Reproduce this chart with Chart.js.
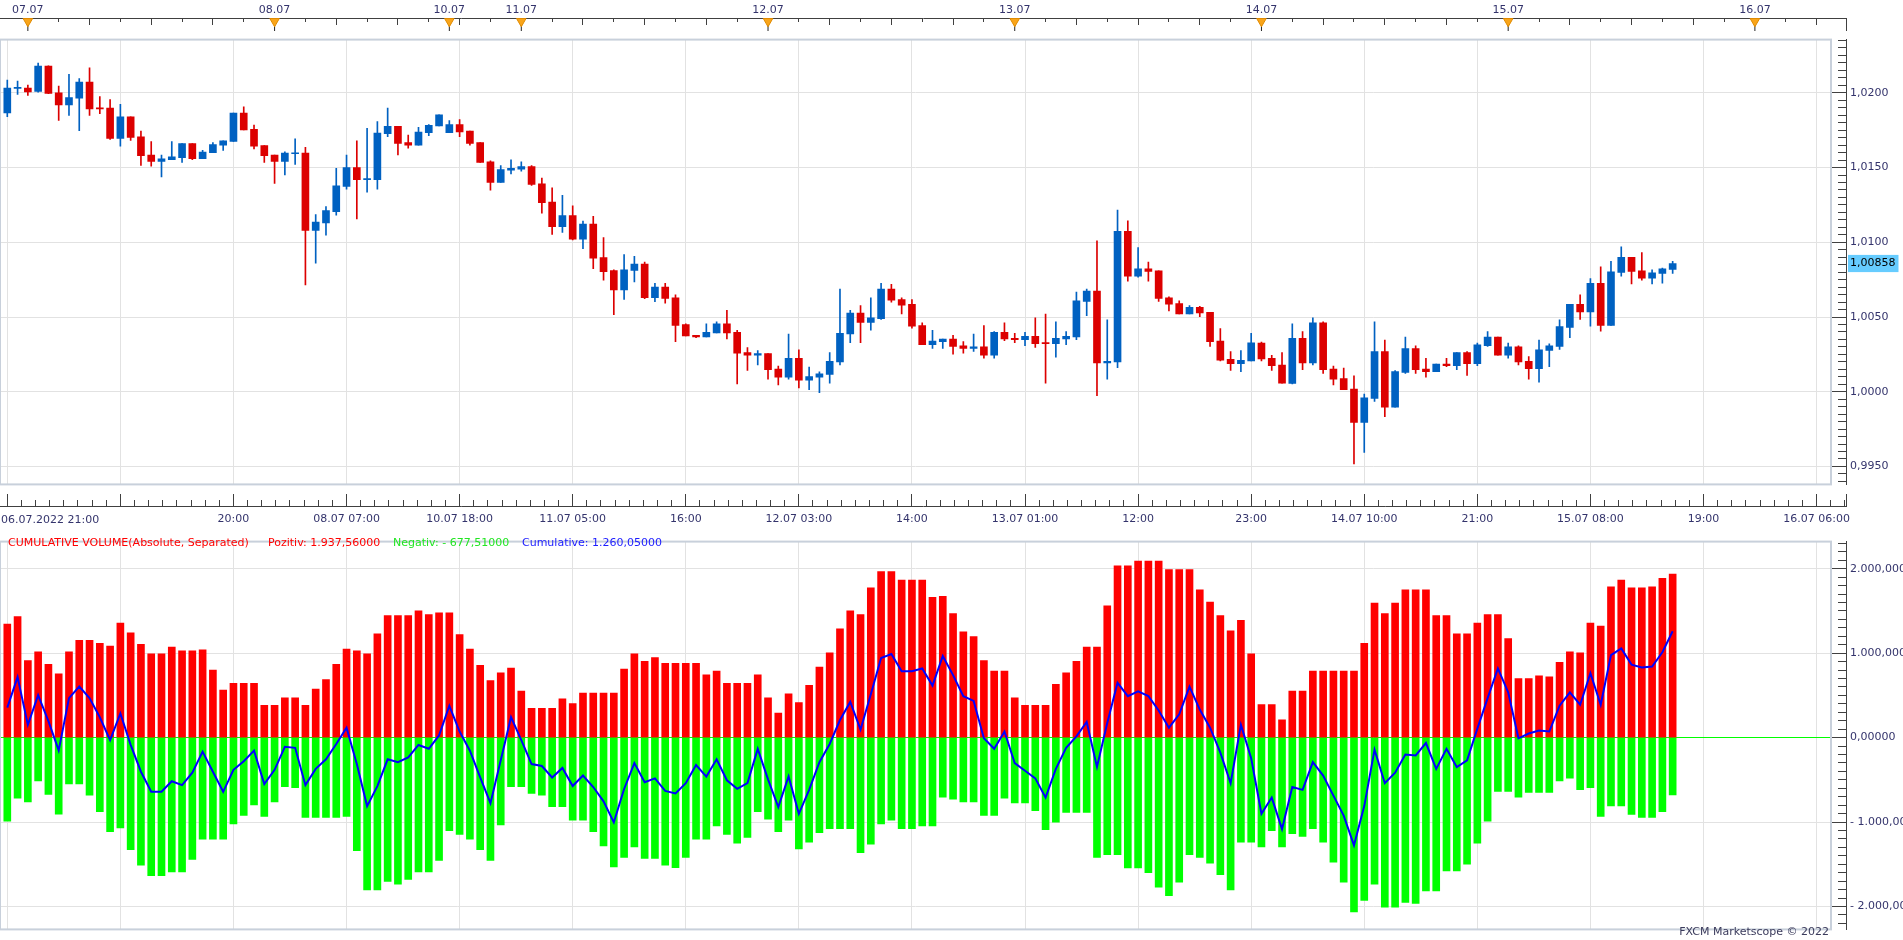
<!DOCTYPE html>
<html>
<head>
<meta charset="utf-8">
<title>EUR/USD H1 - Cumulative Volume</title>
<script src="https://cdn.jsdelivr.net/npm/chart.js@4.4.1/dist/chart.umd.min.js"></script>
<style>
  html, body { margin: 0; padding: 0; background: #fff; }
  body { position: relative; width: 1903px; height: 940px; overflow: hidden; font-family: "DejaVu Sans", sans-serif; }
  canvas { position: absolute; left: 0; }
  .txt { position: absolute; font-size: 11px; line-height: 13px; white-space: pre; }
</style>
</head>
<body>
<canvas id="dateStrip" width="1903" height="31" style="top:0"></canvas>
<canvas id="priceChart" width="1903" height="466" style="top:29px"></canvas>
<canvas id="timeStrip" width="1903" height="40" style="top:493px"></canvas>
<canvas id="volumeChart" width="1903" height="409" style="top:531px"></canvas>
<div class="txt" id="firstTime" style="left:1px;top:513px;color:#34346c"></div>
<div class="txt" id="legTitle" style="left:8px;top:536px;color:#ff0000"></div>
<div class="txt" id="legPos" style="left:268px;top:536px;color:#ff0000"></div>
<div class="txt" id="legNeg" style="left:393px;top:536px;color:#22e622"></div>
<div class="txt" id="legCum" style="left:522px;top:536px;color:#1c1cff"></div>
<div class="txt" id="brand" style="right:74px;top:925px;color:#3b3b5c">FXCM Marketscope © 2022</div>
<script>
// hourly candles, one per bar slot (weekend removed)
const open = [
  1.01865,1.02030,1.02032,1.02009,1.02179,1.02000,1.01919,1.01964,1.02071,1.01897,
  1.01897,1.01694,1.01840,1.01705,1.01583,1.01541,1.01553,1.01566,1.01660,1.01560,
  1.01600,1.01650,1.01675,1.01865,1.01756,1.01647,1.01583,1.01541,1.01592,1.01596,
  1.01079,1.01130,1.01205,1.01374,1.01500,1.01419,1.01419,1.01726,1.01776,1.01667,
  1.01650,1.01733,1.01778,1.01733,1.01788,1.01744,1.01667,1.01538,1.01400,1.01483,
  1.01489,1.01506,1.01391,1.01269,1.01105,1.01179,1.01021,1.01122,1.00897,1.00810,
  1.00682,1.00811,1.00854,1.00629,1.00700,1.00629,1.00449,1.00378,1.00367,1.00393,
  1.00455,1.00397,1.00262,1.00245,1.00255,1.00152,1.00097,1.00223,1.00077,1.00097,
  1.00116,1.00200,1.00386,1.00526,1.00464,1.00489,1.00687,1.00616,1.00584,1.00442,
  1.00315,1.00335,1.00352,1.00307,1.00290,1.00300,1.00245,1.00397,1.00358,1.00348,
  1.00371,1.00326,1.00322,1.00354,1.00367,1.00605,1.00674,1.00193,1.00200,1.01073,
  1.00773,1.00822,1.00809,1.00629,1.00590,1.00521,1.00564,1.00532,1.00339,1.00217,
  1.00187,1.00206,1.00326,1.00223,1.00178,1.00056,1.00358,1.00193,1.00461,1.00152,
  1.00088,1.00017,0.99794,0.99955,1.00268,0.99897,1.00129,1.00288,1.00152,1.00135,
  1.00185,1.00174,1.00262,1.00187,1.00309,1.00365,1.00245,1.00300,1.00204,1.00155,
  1.00277,1.00303,1.00431,1.00584,1.00534,1.00725,1.00444,1.00798,1.00899,1.00809,
  1.00760,1.00792,1.00818
];
const high = [
  1.02085,1.02079,1.02051,1.02199,1.02180,1.02045,1.02124,1.02096,1.02167,1.01974,
  1.01955,1.01923,1.01840,1.01744,1.01673,1.01583,1.01673,1.01660,1.01660,1.01615,
  1.01667,1.01679,1.01865,1.01906,1.01784,1.01647,1.01583,1.01605,1.01692,1.01635,
  1.01186,1.01239,1.01494,1.01583,1.01679,1.01763,1.01808,1.01897,1.01776,1.01718,
  1.01769,1.01788,1.01853,1.01814,1.01821,1.01744,1.01667,1.01545,1.01513,1.01551,
  1.01538,1.01513,1.01429,1.01365,1.01314,1.01244,1.01141,1.01173,1.01032,1.00816,
  1.00918,1.00906,1.00867,1.00725,1.00725,1.00648,1.00455,1.00378,1.00455,1.00468,
  1.00545,1.00410,1.00296,1.00275,1.00255,1.00172,1.00386,1.00281,1.00165,1.00133,
  1.00262,1.00687,1.00545,1.00577,1.00629,1.00725,1.00719,1.00629,1.00616,1.00461,
  1.00410,1.00352,1.00378,1.00335,1.00386,1.00442,1.00403,1.00461,1.00391,1.00397,
  1.00494,1.00519,1.00468,1.00403,1.00667,1.00687,1.01009,1.00481,1.01215,1.01144,
  1.00964,1.00867,1.00809,1.00635,1.00609,1.00577,1.00571,1.00532,1.00423,1.00268,
  1.00275,1.00391,1.00333,1.00243,1.00262,1.00455,1.00403,1.00494,1.00468,1.00172,
  1.00159,1.00107,0.99985,1.00468,1.00345,1.00142,1.00365,1.00307,1.00223,1.00185,
  1.00223,1.00262,1.00268,1.00326,1.00403,1.00365,1.00326,1.00307,1.00236,1.00345,
  1.00320,1.00481,1.00584,1.00648,1.00757,1.00835,1.00873,1.00970,1.00899,1.00931,
  1.00815,1.00828,1.00873
];
const low = [
  1.01840,1.01989,1.01983,1.02005,1.01994,1.01816,1.01848,1.01746,1.01848,1.01861,
  1.01688,1.01643,1.01682,1.01515,1.01509,1.01438,1.01553,1.01534,1.01553,1.01560,
  1.01600,1.01615,1.01675,1.01752,1.01624,1.01534,1.01393,1.01451,1.01521,1.00714,
  1.00861,1.01047,1.01182,1.01355,1.01156,1.01335,1.01355,1.01707,1.01585,1.01630,
  1.01650,1.01714,1.01778,1.01733,1.01707,1.01650,1.01534,1.01348,1.01400,1.01457,
  1.01476,1.01380,1.01194,1.01053,1.01066,1.01015,1.00957,1.00823,1.00746,1.00515,
  1.00618,1.00734,1.00622,1.00603,1.00592,1.00335,1.00373,1.00361,1.00367,1.00393,
  1.00354,1.00052,1.00142,1.00180,1.00084,1.00045,1.00084,1.00026,1.00013,0.99994,
  1.00058,1.00180,1.00328,1.00328,1.00412,1.00483,1.00599,1.00521,1.00425,1.00315,
  1.00290,1.00290,1.00251,1.00258,1.00270,1.00225,1.00225,1.00341,1.00328,1.00309,
  1.00296,1.00058,1.00232,1.00315,1.00348,1.00509,0.99974,1.00084,1.00161,1.00740,
  1.00766,1.00740,1.00605,1.00541,1.00521,1.00521,1.00502,1.00303,1.00206,1.00142,
  1.00135,1.00206,1.00206,1.00142,1.00058,1.00052,1.00148,1.00180,1.00122,1.00045,
  1.00013,0.99517,0.99594,0.99936,0.99833,0.99897,1.00122,1.00122,1.00097,1.00135,
  1.00167,1.00148,1.00109,1.00174,1.00303,1.00245,1.00225,1.00180,1.00084,1.00064,
  1.00167,1.00283,1.00361,1.00483,1.00438,1.00406,1.00444,1.00773,1.00721,1.00747,
  1.00721,1.00727,1.00792
];
const close = [
  1.02032,1.02034,1.02006,1.02179,1.01996,1.01919,1.01968,1.02071,1.01893,1.01893,
  1.01694,1.01840,1.01701,1.01579,1.01541,1.01558,1.01571,1.01660,1.01560,1.01603,
  1.01654,1.01679,1.01865,1.01752,1.01643,1.01579,1.01541,1.01596,1.01596,1.01079,
  1.01135,1.01212,1.01378,1.01500,1.01419,1.01421,1.01731,1.01776,1.01662,1.01650,
  1.01737,1.01782,1.01853,1.01788,1.01739,1.01662,1.01534,1.01400,1.01487,1.01494,
  1.01506,1.01387,1.01265,1.01105,1.01179,1.01021,1.01122,1.00893,1.00803,1.00682,
  1.00815,1.00854,1.00629,1.00700,1.00624,1.00444,1.00373,1.00367,1.00397,1.00455,
  1.00393,1.00258,1.00245,1.00255,1.00148,1.00097,1.00223,1.00077,1.00101,1.00120,
  1.00204,1.00391,1.00526,1.00464,1.00494,1.00687,1.00612,1.00579,1.00438,1.00315,
  1.00339,1.00352,1.00303,1.00290,1.00300,1.00245,1.00397,1.00354,1.00348,1.00371,
  1.00322,1.00322,1.00358,1.00371,1.00609,1.00674,1.00193,1.00204,1.01073,1.00773,
  1.00822,1.00805,1.00624,1.00586,1.00521,1.00564,1.00528,1.00335,1.00212,1.00187,
  1.00210,1.00328,1.00219,1.00174,1.00058,1.00358,1.00193,1.00461,1.00148,1.00084,
  1.00013,0.99794,0.99959,1.00268,0.99897,1.00135,1.00288,1.00148,1.00135,1.00185,
  1.00174,1.00262,1.00187,1.00313,1.00365,1.00245,1.00300,1.00200,1.00155,1.00281,
  1.00307,1.00436,1.00584,1.00534,1.00725,1.00444,1.00803,1.00899,1.00805,1.00760,
  1.00796,1.00822,1.00858
];

// CUMULATIVE VOLUME (Absolute, Separated)
const volPositive = [
  1344,1434,913,1015,868,755,1015,1151,1151,1117,
  1083,1355,1242,1106,993,993,1072,1027,1027,1038,
  800,562,642,642,642,381,381,472,472,381,
  574,687,868,1049,1027,993,1230,1445,1445,1445,
  1502,1457,1479,1479,1219,1049,857,676,766,823,
  551,347,347,347,460,404,528,528,528,528,
  811,993,902,947,879,879,879,879,743,789,
  642,642,642,743,472,291,517,415,619,834,
  1004,1287,1502,1457,1774,1966,1966,1864,1864,1864,
  1661,1672,1468,1253,1196,913,789,789,472,381,
  381,381,630,766,902,1072,1072,1559,2034,2034,
  2091,2091,2091,1989,1989,1989,1751,1604,1445,1264,
  1389,993,392,392,211,551,551,789,789,789,
  789,789,1117,1593,1468,1593,1751,1751,1751,1445,
  1445,1230,1230,1355,1457,1457,1174,698,698,732,
  721,891,1015,1004,1355,1321,1785,1864,1774,1774,
  1785,1887,1937.56
];
const volNegative = [
  -989,-717,-762,-513,-672,-906,-547,-547,-683,-876,
  -1113,-1068,-1328,-1510,-1634,-1634,-1589,-1589,-1442,-1204,
  -1204,-1204,-1023,-921,-796,-932,-762,-581,-593,-944,
  -944,-944,-944,-932,-1340,-1804,-1804,-1702,-1736,-1679,
  -1589,-1589,-1453,-1102,-1147,-1204,-1328,-1453,-1034,-581,
  -581,-660,-683,-819,-819,-977,-977,-1113,-1283,-1532,
  -1419,-1294,-1430,-1430,-1510,-1540,-1419,-1204,-1204,-1045,
  -1147,-1249,-1181,-876,-966,-1113,-977,-1317,-1238,-1125,
  -1079,-1079,-1079,-1362,-1261,-1023,-977,-1079,-1079,-1045,
  -1045,-706,-728,-762,-762,-921,-921,-717,-774,-774,
  -864,-1091,-1000,-887,-887,-887,-1419,-1385,-1385,-1544,
  -1544,-1600,-1770,-1872,-1713,-1385,-1419,-1487,-1623,-1804,
  -1238,-1238,-1294,-1102,-1294,-1136,-1170,-1079,-1238,-1476,
  -1713,-2064,-1928,-1736,-2008,-2008,-1951,-1962,-1815,-1815,
  -1578,-1578,-1498,-1249,-989,-638,-638,-706,-649,-649,
  -649,-513,-479,-615,-593,-932,-808,-808,-910,-944,
  -944,-876,-677.51
];

// top date strip: first bar of each day
const dayStartBar = [2, 26, 43, 50, 74, 98, 122, 146, 170];
const dayLabels = ['07.07', '08.07', '10.07', '11.07', '12.07', '13.07', '14.07', '15.07', '16.07'];
// bottom time axis, one label every 11 bars ('' = hidden by overlap)
const timeLabels = ['06.07.2022 21:00', '', '20:00', '08.07 07:00', '10.07 18:00', '11.07 05:00', '16:00',
  '12.07 03:00', '14:00', '13.07 01:00', '12:00', '23:00', '14.07 10:00', '21:00', '15.07 08:00', '19:00', '16.07 06:00'];
// trading sessions (bar index -> hour of first bar)
const sessions = [{ bar: 0, hour: 22 }, { bar: 43, hour: 17 }];

const PX_PER_BAR = 10.28;
const X_MIN = -0.71;
const PLOT_W = 1831, STRIP_W = 1846;
const xMax = w => X_MIN + w / PX_PER_BAR;
const PRICE_MIN = 0.99380, PRICE_MAX = 1.02356;
const VOL_MIN = -2271, VOL_MAX = 2321;

const GRID = '#e2e2e2', FRAME = '#c8d0db', AXIS = '#404040', LABEL = '#34346c';
const UP = '#0061c1', DOWN = '#dc0000';

Chart.defaults.font = { family: 'DejaVu Sans', size: 11 };
Chart.defaults.animation = false;
Chart.defaults.responsive = false;
Chart.defaults.plugins.legend.display = false;
Chart.defaults.plugins.tooltip.enabled = false;

const fixW = w => s => { s.width = w; };
const fixH = h => s => { s.height = h; };

// evenly stepped ticks between min and max (avoids chart.js re-spacing)
function stepTicks(min, max, step) {
  const out = [];
  for (let k = Math.ceil(min / step - 1e-9); k * step <= max + 1e-9; k++) {
    out.push({ value: +(k * step).toFixed(6) });
  }
  return out;
}

function euro(v, dec) {
  const parts = Math.abs(v).toFixed(dec).split('.');
  const whole = parts[0].replace(/\B(?=(\d{3})+(?!\d))/g, '.');
  return (v < 0 ? '- ' : '') + whole + ',' + parts[1];
}

function hourOfBar(b) {
  const s = b >= sessions[1].bar ? sessions[1] : sessions[0];
  return (b - s.bar + s.hour) % 24;
}

const framePlugin = {
  id: 'frame',
  afterDraw(chart) {
    const a = chart.chartArea, ctx = chart.ctx;
    ctx.save();
    ctx.strokeStyle = FRAME;
    ctx.lineWidth = 2;
    ctx.strokeRect(a.left, a.top, a.right - a.left, a.bottom - a.top);
    ctx.restore();
  }
};

// right side: major ticks, minor ticks, then labelled axis line
function rightAxes(min, max, major, minor, gridColor, label, extraTick) {
  return {
    y: {
      position: 'right', weight: 0, min, max, afterFit: fixW(7),
      afterBuildTicks: s => { s.ticks = stepTicks(min, max, major); },
      ticks: { display: false },
      grid: { color: gridColor, tickLength: 7, tickColor: AXIS },
      border: { display: false }
    },
    yMinor: {
      position: 'right', weight: 1, min, max, afterFit: fixW(8),
      afterBuildTicks: s => { s.ticks = stepTicks(min, max, minor); },
      ticks: { display: false },
      grid: { drawOnChartArea: false, tickLength: 8, tickColor: AXIS },
      border: { display: false }
    },
    yLab: {
      position: 'right', weight: 2, min, max, afterFit: fixW(57),
      afterBuildTicks: s => {
        s.ticks = stepTicks(min, max, major);
        if (extraTick !== undefined) s.ticks.push({ value: extraTick });
      },
      ticks: {
        autoSkip: false, padding: 4,
        color: c => (c.tick && c.tick.value === extraTick) ? '#000' : LABEL,
        showLabelBackdrop: c => !!c.tick && c.tick.value === extraTick,
        backdropColor: '#66ccff',
        backdropPadding: { top: 2, bottom: 2, left: 2, right: 3 },
        callback: label
      },
      grid: { drawOnChartArea: false, drawTicks: false },
      border: { display: true, color: AXIS }
    }
  };
}

const bars = close.map((_, i) => i);
const candleColor = bars.map(i => close[i] >= open[i] ? UP : DOWN);
const lastClose = close[close.length - 1];

// ---- top date strip
const slots = [];
for (let b = 0; b <= 178; b++) slots.push(b);
const threeHourBars = slots.filter(b => hourOfBar(b) % 3 === 0);
const sixHourBars = slots.filter(b => hourOfBar(b) % 6 === 0);

new Chart(document.getElementById('dateStrip'), {
  type: 'scatter',
  data: {
    datasets: [
      { data: dayStartBar.map(b => ({ x: b, y: 0.5 })), pointStyle: 'triangle', pointRotation: 180,
        pointRadius: 5.5, pointBackgroundColor: '#f9a51a', pointBorderColor: '#e08a00', pointBorderWidth: 1, clip: false },
      { data: dayStartBar.map(b => ({ x: b, y: 0 })), pointStyle: 'line', pointRotation: 90,
        pointRadius: 6.5, pointBorderColor: '#222', pointBorderWidth: 1, clip: false }
    ]
  },
  options: {
    layout: { autoPadding: false, padding: 0 },
    scales: {
      x: {
        type: 'linear', position: 'top', weight: 0, min: X_MIN, max: xMax(STRIP_W), afterFit: fixH(0),
        afterBuildTicks: s => { s.ticks = threeHourBars.map(v => ({ value: v })); },
        ticks: { display: false }, grid: { drawOnChartArea: false, tickLength: -4, tickColor: AXIS }, border: { display: false }
      },
      xLong: {
        type: 'linear', position: 'top', weight: 1, min: X_MIN, max: xMax(STRIP_W), afterFit: fixH(0),
        afterBuildTicks: s => { s.ticks = sixHourBars.map(v => ({ value: v })); },
        ticks: { display: false }, grid: { drawOnChartArea: false, tickLength: -7, tickColor: AXIS }, border: { display: false }
      },
      xDays: {
        type: 'linear', position: 'top', weight: 2, min: X_MIN, max: xMax(STRIP_W), afterFit: fixH(18),
        afterBuildTicks: s => { s.ticks = dayStartBar.map(v => ({ value: v })); },
        ticks: { autoSkip: false, maxRotation: 0, padding: 1, color: LABEL, callback: (v, i) => dayLabels[i] },
        grid: { drawOnChartArea: false, drawTicks: false }, border: { display: true, color: AXIS }
      },
      y: { display: false, min: -1, max: 1 },
      yEdge: {
        position: 'right', min: -1, max: 1, afterFit: fixW(57),
        ticks: { display: false }, grid: { drawOnChartArea: false, drawTicks: false }, border: { display: true, color: AXIS }
      }
    }
  }
});

// ---- price panel
new Chart(document.getElementById('priceChart'), {
  type: 'bar',
  data: {
    datasets: [
      { data: bars.map(i => ({ x: i, y: [open[i], close[i]] })), backgroundColor: candleColor,
        barThickness: 7, minBarLength: 1, grouped: false },
      { data: bars.map(i => ({ x: i, y: [low[i], high[i]] })), backgroundColor: candleColor,
        barThickness: 1, grouped: false }
    ]
  },
  options: {
    layout: { autoPadding: false, padding: { top: 2, bottom: 2, left: 0, right: 0 } },
    scales: {
      x: {
        type: 'linear', min: X_MIN, max: xMax(PLOT_W), offset: false, afterFit: fixH(0),
        afterBuildTicks: s => { s.ticks = stepTicks(X_MIN, xMax(PLOT_W), 11); },
        ticks: { display: false },
        grid: { color: GRID, drawTicks: false, offset: false }, border: { display: false }
      },
      ...rightAxes(PRICE_MIN, PRICE_MAX, 0.005, 0.0005, GRID,
        v => Math.abs(v - lastClose) < 1e-9 ? v.toFixed(5).replace('.', ',') : v.toFixed(4).replace('.', ','),
        lastClose)
    }
  },
  plugins: [framePlugin]
});

// ---- time axis strip
document.getElementById('firstTime').textContent = timeLabels[0];
new Chart(document.getElementById('timeStrip'), {
  type: 'scatter',
  data: { datasets: [] },
  options: {
    layout: { autoPadding: false, padding: { top: 1, bottom: 0, left: 0, right: 0 } },
    scales: {
      xMinor: {
        type: 'linear', position: 'bottom', weight: 0, min: X_MIN, max: xMax(STRIP_W), afterFit: fixH(0),
        afterBuildTicks: s => { s.ticks = stepTicks(X_MIN, xMax(STRIP_W), 11 / 8); },
        ticks: { display: false },
        grid: { drawOnChartArea: false, tickLength: -6, tickColor: AXIS }, border: { display: false }
      },
      x: {
        type: 'linear', position: 'bottom', weight: 1, min: X_MIN, max: xMax(STRIP_W), afterFit: fixH(27),
        afterBuildTicks: s => { s.ticks = stepTicks(X_MIN, xMax(STRIP_W), 11); },
        ticks: {
          autoSkip: false, maxRotation: 0, padding: 7, color: LABEL,
          callback: v => { const k = Math.round(v / 11); return k > 0 ? (timeLabels[k] || '') : ''; }
        },
        grid: { color: AXIS, drawTicks: false }, border: { display: true, color: AXIS }
      },
      y: { display: false, min: 0, max: 1 },
      yEdge: {
        position: 'right', min: 0, max: 1, afterFit: fixW(57),
        ticks: { display: false }, grid: { drawOnChartArea: false, drawTicks: false }, border: { display: true, color: AXIS }
      }
    }
  }
});

// ---- cumulative volume panel
const posLast = volPositive[volPositive.length - 1];
const negLast = volNegative[volNegative.length - 1];
document.getElementById('legTitle').textContent = 'CUMULATIVE VOLUME(Absolute, Separated)';
document.getElementById('legPos').textContent = 'Pozitiv: ' + euro(posLast, 5);
document.getElementById('legNeg').textContent = 'Negativ: ' + euro(negLast, 5);
document.getElementById('legCum').textContent = 'Cumulative: ' + euro(posLast + negLast, 5);

new Chart(document.getElementById('volumeChart'), {
  type: 'bar',
  data: {
    datasets: [
      { type: 'line', data: bars.map(i => ({ x: i, y: volPositive[i] + volNegative[i] })),
        borderColor: '#0000ff', borderWidth: 2, pointRadius: 0, tension: 0 },
      { data: bars.map(i => ({ x: i, y: volPositive[i] })), backgroundColor: '#ff0000', barThickness: 7, grouped: false },
      { data: bars.map(i => ({ x: i, y: volNegative[i] })), backgroundColor: '#00ff00', barThickness: 7, grouped: false }
    ]
  },
  options: {
    layout: { autoPadding: false, padding: { top: 2, bottom: 2, left: 0, right: 0 } },
    scales: {
      x: {
        type: 'linear', min: X_MIN, max: xMax(PLOT_W), offset: false, afterFit: fixH(0),
        afterBuildTicks: s => { s.ticks = stepTicks(X_MIN, xMax(PLOT_W), 11); },
        ticks: { display: false },
        grid: { color: GRID, drawTicks: false, offset: false }, border: { display: false }
      },
      ...rightAxes(VOL_MIN, VOL_MAX, 1000, 100, c => (c.tick && c.tick.value === 0) ? '#00ff00' : GRID,
        v => euro(v, 5))
    }
  },
  plugins: [framePlugin]
});
</script>
</body>
</html>
